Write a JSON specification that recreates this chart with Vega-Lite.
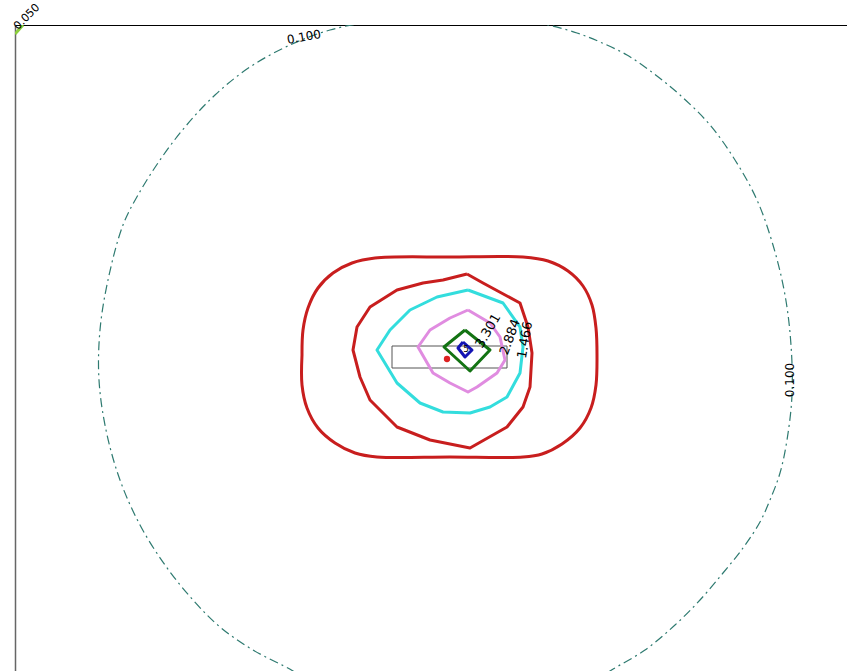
{
  "$schema": "https://vega.github.io/schema/vega-lite/v6.json",
  "width": 832,
  "height": 646,
  "autosize": {"type": "none"},
  "padding": {"left": 15, "top": 25, "right": 0, "bottom": 0},
  "background": "white",
  "config": {"view": {"stroke": null}},
  "datasets": {
    "lines": [
      {"c":"d100","o":0,"x":295,"y":-12},{"c":"d100","o":1,"x":278,"y":0},{"c":"d100","o":2,"x":238,"y":21},{"c":"d100","o":3,"x":205,"y":44},{"c":"d100","o":4,"x":178,"y":71},{"c":"d100","o":5,"x":150,"y":106},{"c":"d100","o":6,"x":125,"y":146},{"c":"d100","o":7,"x":105,"y":191},{"c":"d100","o":8,"x":91,"y":241},{"c":"d100","o":9,"x":84,"y":291},{"c":"d100","o":10,"x":85,"y":341},{"c":"d100","o":11,"x":93,"y":391},{"c":"d100","o":12,"x":108,"y":446},{"c":"d100","o":13,"x":123,"y":476},{"c":"d100","o":14,"x":145,"y":511},{"c":"d100","o":15,"x":170,"y":544},{"c":"d100","o":16,"x":200,"y":576},{"c":"d100","o":17,"x":235,"y":604},{"c":"d100","o":18,"x":275,"y":626},{"c":"d100","o":19,"x":315,"y":641},{"c":"d100","o":20,"x":355,"y":649},{"c":"d100","o":21,"x":405,"y":653},{"c":"d100","o":22,"x":455,"y":654},{"c":"d100","o":23,"x":495,"y":652},{"c":"d100","o":24,"x":533,"y":646},{"c":"d100","o":25,"x":562,"y":638},{"c":"d100","o":26,"x":585,"y":629},{"c":"d100","o":27,"x":612,"y":616},{"c":"d100","o":28,"x":638,"y":598},{"c":"d100","o":29,"x":665,"y":576},{"c":"d100","o":30,"x":695,"y":546},{"c":"d100","o":31,"x":720,"y":511},{"c":"d100","o":32,"x":742,"y":471},{"c":"d100","o":33,"x":758,"y":426},{"c":"d100","o":34,"x":770,"y":376},{"c":"d100","o":35,"x":776,"y":326},{"c":"d100","o":36,"x":777,"y":276},{"c":"d100","o":37,"x":772,"y":231},{"c":"d100","o":38,"x":765,"y":198},{"c":"d100","o":39,"x":755,"y":171},{"c":"d100","o":40,"x":745,"y":149},{"c":"d100","o":41,"x":728,"y":123},{"c":"d100","o":42,"x":708,"y":98},{"c":"d100","o":43,"x":685,"y":71},{"c":"d100","o":44,"x":660,"y":46},{"c":"d100","o":45,"x":630,"y":21},{"c":"d100","o":46,"x":595,"y":0},{"c":"d100","o":47,"x":575,"y":-14},

      {"c":"r1","o":0,"x":287,"y":316},{"c":"r1","o":1,"x":288,"y":341},{"c":"r1","o":2,"x":293,"y":363},{"c":"r1","o":3,"x":303,"y":383},{"c":"r1","o":4,"x":318,"y":398},{"c":"r1","o":5,"x":337,"y":408},{"c":"r1","o":6,"x":360,"y":413},{"c":"r1","o":7,"x":435,"y":414},{"c":"r1","o":8,"x":508,"y":414},{"c":"r1","o":9,"x":533,"y":410},{"c":"r1","o":10,"x":553,"y":400},{"c":"r1","o":11,"x":568,"y":385},{"c":"r1","o":12,"x":577,"y":366},{"c":"r1","o":13,"x":581,"y":343},{"c":"r1","o":14,"x":582,"y":316},{"c":"r1","o":15,"x":581,"y":286},{"c":"r1","o":16,"x":576,"y":263},{"c":"r1","o":17,"x":565,"y":243},{"c":"r1","o":18,"x":547,"y":227},{"c":"r1","o":19,"x":527,"y":217},{"c":"r1","o":20,"x":508,"y":214},{"c":"r1","o":21,"x":435,"y":214},{"c":"r1","o":22,"x":362,"y":214},{"c":"r1","o":23,"x":340,"y":218},{"c":"r1","o":24,"x":320,"y":228},{"c":"r1","o":25,"x":303,"y":243},{"c":"r1","o":26,"x":292,"y":263},{"c":"r1","o":27,"x":287,"y":286},{"c":"r1","o":28,"x":287,"y":316},

      {"c":"r2","o":0,"x":452,"y":397},{"c":"r2","o":1,"x":468,"y":388},{"c":"r2","o":2,"x":505,"y":368},{"c":"r2","o":3,"x":513,"y":344},{"c":"r2","o":4,"x":517,"y":318},{"c":"r2","o":5,"x":515,"y":284},{"c":"r2","o":6,"x":508,"y":264},{"c":"r2","o":7,"x":492,"y":244},{"c":"r2","o":8,"x":455,"y":223},{"c":"r2","o":9,"x":415,"y":231},{"c":"r2","o":10,"x":382,"y":244},{"c":"r2","o":11,"x":355,"y":271},{"c":"r2","o":12,"x":345,"y":294},{"c":"r2","o":13,"x":338,"y":321},{"c":"r2","o":14,"x":342,"y":344},{"c":"r2","o":15,"x":355,"y":364},{"c":"r2","o":16,"x":382,"y":381},{"c":"r2","o":17,"x":408,"y":388},{"c":"r2","o":18,"x":428,"y":391},{"c":"r2","o":19,"x":452,"y":397},

      {"c":"cy","o":0,"x":453,"y":381},{"c":"cy","o":1,"x":488,"y":368},{"c":"cy","o":2,"x":505,"y":344},{"c":"cy","o":3,"x":508,"y":324},{"c":"cy","o":4,"x":505,"y":298},{"c":"cy","o":5,"x":492,"y":274},{"c":"cy","o":6,"x":475,"y":264},{"c":"cy","o":7,"x":455,"y":258},{"c":"cy","o":8,"x":428,"y":259},{"c":"cy","o":9,"x":405,"y":268},{"c":"cy","o":10,"x":382,"y":288},{"c":"cy","o":11,"x":362,"y":321},{"c":"cy","o":12,"x":375,"y":341},{"c":"cy","o":13,"x":395,"y":361},{"c":"cy","o":14,"x":422,"y":374},{"c":"cy","o":15,"x":453,"y":381},

      {"c":"vi","o":0,"x":453,"y":361},{"c":"vi","o":1,"x":475,"y":348},{"c":"vi","o":2,"x":485,"y":334},{"c":"vi","o":3,"x":490,"y":311},{"c":"vi","o":4,"x":482,"y":298},{"c":"vi","o":5,"x":462,"y":284},{"c":"vi","o":6,"x":453,"y":279},{"c":"vi","o":7,"x":435,"y":288},{"c":"vi","o":8,"x":418,"y":298},{"c":"vi","o":9,"x":403,"y":324},{"c":"vi","o":10,"x":415,"y":341},{"c":"vi","o":11,"x":435,"y":353},{"c":"vi","o":12,"x":453,"y":361},

      {"c":"gr","o":0,"x":450,"y":341},{"c":"gr","o":1,"x":475,"y":321},{"c":"gr","o":2,"x":455,"y":300},{"c":"gr","o":3,"x":429,"y":324},{"c":"gr","o":4,"x":450,"y":341},

      {"c":"bl","o":0,"x":448,"y":329},{"c":"bl","o":1,"x":457,"y":321},{"c":"bl","o":2,"x":450,"y":314},{"c":"bl","o":3,"x":443,"y":323},{"c":"bl","o":4,"x":448,"y":329},

      {"c":"g50","o":0,"x":0,"y":637},{"c":"g50","o":1,"x":8,"y":646},

      {"c":"rect","o":0,"x":377,"y":325},{"c":"rect","o":1,"x":492,"y":325},{"c":"rect","o":2,"x":492,"y":303},{"c":"rect","o":3,"x":377,"y":303},{"c":"rect","o":4,"x":377,"y":325}
    ],
    "labels": [
      {"t":"0.050","x":12,"y":654,"a":315,"s":11},
      {"t":"0.100","x":289,"y":634,"a":350,"s":12},
      {"t":"0.100","x":775,"y":291,"a":270,"s":12},
      {"t":"1.466","x":510,"y":331,"a":280,"s":13},
      {"t":"2.884","x":495,"y":334,"a":290,"s":13},
      {"t":"3.301","x":473,"y":340,"a":300,"s":13},
      {"t":"5","x":451,"y":322,"a":0,"s":9}
    ],
    "src": [{"x":432,"y":312}]
  },
  "encoding": {
    "x": {"field": "x", "type": "quantitative", "scale": {"domain": [0, 832], "nice": false, "zero": false},
      "axis": {"orient": "top", "title": null, "ticks": false, "labels": false, "grid": false, "domainColor": "#000000", "domainWidth": 1}},
    "y": {"field": "y", "type": "quantitative", "scale": {"domain": [0, 646], "nice": false, "zero": false},
      "axis": {"orient": "left", "title": null, "ticks": false, "labels": false, "grid": false, "domainColor": "#666666", "domainWidth": 1.5}}
  },
  "layer": [
    {
      "data": {"name": "lines"},
      "transform": [{"filter": "datum.c == 'd100'"}],
      "mark": {"type": "line", "clip": true, "color": "#2e7a70", "strokeWidth": 1.2, "strokeDash": [9, 4, 2, 4], "interpolate": "catmull-rom"},
      "encoding": {"order": {"field": "o", "type": "quantitative"}}
    },
    {
      "data": {"name": "lines"},
      "transform": [{"filter": "datum.c == 'rect'"}],
      "mark": {"type": "line", "clip": true, "color": "#555555", "strokeWidth": 1},
      "encoding": {"order": {"field": "o", "type": "quantitative"}}
    },
    {
      "data": {"name": "lines"},
      "transform": [{"filter": "datum.c == 'r1'"}],
      "mark": {"type": "line", "clip": true, "color": "#c81e1e", "strokeWidth": 3, "interpolate": "catmull-rom"},
      "encoding": {"order": {"field": "o", "type": "quantitative"}}
    },
    {
      "data": {"name": "lines"},
      "transform": [{"filter": "datum.c != 'd100' && datum.c != 'rect' && datum.c != 'r1'"}],
      "mark": {"type": "line", "clip": true, "strokeWidth": 3, "strokeJoin": "round"},
      "encoding": {
        "detail": {"field": "c", "type": "nominal"},
        "order": {"field": "o", "type": "quantitative"},
        "color": {"field": "c", "type": "nominal", "legend": null,
          "scale": {"domain": ["r2", "cy", "vi", "gr", "bl", "g50"],
                    "range": ["#c81e1e", "#33dddd", "#e08ce0", "#137313", "#1414b4", "#8ccf3c"]}}
      }
    },
    {
      "data": {"name": "src"},
      "mark": {"type": "point", "filled": true, "color": "#dd2222", "size": 40, "opacity": 1},
      "encoding": {}
    },
    {
      "data": {"name": "labels"},
      "mark": {"type": "text", "font": "DejaVu Sans", "color": "#000000", "align": "center", "baseline": "middle"},
      "encoding": {
        "text": {"field": "t"},
        "angle": {"field": "a", "type": "quantitative", "scale": null},
        "size": {"field": "s", "type": "quantitative", "scale": null}
      }
    }
  ]
}
